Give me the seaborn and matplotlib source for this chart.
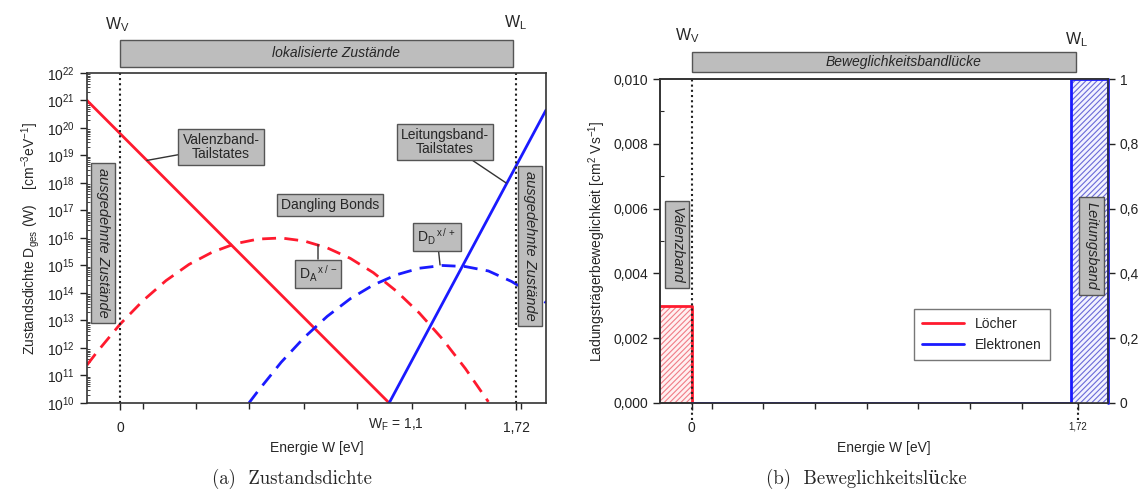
import numpy as np
import pandas as pd
import matplotlib
matplotlib.use("Agg")
import matplotlib.pyplot as plt
import matplotlib.transforms as mtransforms
from matplotlib.patches import Rectangle
from matplotlib.lines import Line2D
from matplotlib.ticker import FixedLocator, LogLocator, NullFormatter
import seaborn as sns

# ---------------- data: panel (a) Zustandsdichte (log10 of D) ----------------
w_vb_tail = [-0.143, 1.169]
log_d_vb_tail = [21.0, 10.0]
w_lb_tail = [1.169, 1.85]
log_d_lb_tail = [10.0, 20.65]
w_da = [-0.143, -0.1, 0.0, 0.1, 0.2, 0.3, 0.4, 0.5, 0.6, 0.7, 0.8, 0.9, 1.0,
        1.1, 1.2, 1.3, 1.4, 1.5, 1.6]
log_d_da = [11.38, 11.85, 12.86, 13.72, 14.45, 15.04, 15.48, 15.79, 15.96, 16.0,
            15.89, 15.64, 15.26, 14.74, 14.07, 13.27, 12.33, 11.25, 10.04]
w_dd = [0.56, 0.6, 0.7, 0.8, 0.9, 1.0, 1.1, 1.2, 1.3, 1.4, 1.5, 1.6, 1.7, 1.8, 1.85]
log_d_dd = [10.0, 10.44, 11.48, 12.38, 13.15, 13.79, 14.29, 14.66, 14.90, 15.0,
            14.96, 14.80, 14.42, 13.92, 13.65]
x_ticks_a = [0.0, 1.72]
x_ticklabels_a = ["0", "1,72"]
w_fermi = 1.2
w_fermi_label = "W$_F$ = 1,1"

# ---------------- data: panel (b) Beweglichkeitslücke ----------------
w_loecher = [-0.141, 0.0, 0.0, 1.69]
mu_loecher = [0.003, 0.003, 0.0, 0.0]
w_elektronen = [0.0, 1.69, 1.69, 1.855]
mu_elektronen = [0.0, 0.0, 1.0, 1.0]
y_ticks_b = [0.0, 0.002, 0.004, 0.006, 0.008, 0.010]
y_ticklabels_b = ["0,000", "0,002", "0,004", "0,006", "0,008", "0,010"]
y2_ticks_b = [0.0, 0.2, 0.4, 0.6, 0.8, 1.0]
y2_ticklabels_b = ["0", "0,2", "0,4", "0,6", "0,8", "1"]

W_V, W_L = 0.0, 1.72

sns.set_theme(style="ticks")
plt.rcParams['font.family'] = ['Liberation Sans', 'DejaVu Sans']
plt.rcParams['mathtext.default'] = 'regular'
plt.rcParams['hatch.linewidth'] = 0.8
plt.rcParams['axes.edgecolor'] = '#333333'
plt.rcParams['axes.linewidth'] = 1.2

RED = '#ff1a2e'
BLUE = '#1a1aff'
BOXFC = '#bdbdbd'
BOXEC = '#555555'
box = dict(boxstyle='square,pad=0.3', fc=BOXFC, ec=BOXEC, lw=1.0)
vbox = dict(boxstyle='square,pad=0.35', fc=BOXFC, ec=BOXEC, lw=1.0)

fig = plt.figure(figsize=(11.42, 4.95), dpi=100)
axA = fig.add_axes([0.0762, 0.1859, 0.4019, 0.6667])
axB = fig.add_axes([0.5779, 0.1859, 0.3923, 0.6545])

# ================= panel (a) =================
ax = axA
dfa = pd.DataFrame({"W": w_vb_tail, "D": np.power(10.0, log_d_vb_tail)})
sns.lineplot(data=dfa, x="W", y="D", ax=ax, color=RED, lw=2, sort=False, estimator=None)
dfb = pd.DataFrame({"W": w_lb_tail, "D": np.power(10.0, log_d_lb_tail)})
sns.lineplot(data=dfb, x="W", y="D", ax=ax, color=BLUE, lw=2, sort=False, estimator=None)
dfc = pd.DataFrame({"W": w_da, "D": np.power(10.0, log_d_da)})
sns.lineplot(data=dfc, x="W", y="D", ax=ax, color=RED, lw=2, sort=False, estimator=None,
             linestyle=(0, (5, 3)))
dfd = pd.DataFrame({"W": w_dd, "D": np.power(10.0, log_d_dd)})
sns.lineplot(data=dfd, x="W", y="D", ax=ax, color=BLUE, lw=2, sort=False, estimator=None,
             linestyle=(0, (5, 3)))
ax.set_yscale('log')
ax.set_xlim(-0.143, 1.85)
ax.set_ylim(1e10, 1e22)
ax.yaxis.set_major_locator(LogLocator(base=10, numticks=20))
ax.yaxis.set_minor_locator(LogLocator(base=10, subs=np.arange(2, 10), numticks=200))
ax.yaxis.set_minor_formatter(NullFormatter())
ax.set_xticks(x_ticks_a)
ax.set_xticklabels(x_ticklabels_a)
ax.xaxis.set_minor_locator(FixedLocator([0.1, 0.33, 0.56, 0.80, 1.03, 1.27, 1.50, 1.74]))
ax.tick_params(axis='both', which='major', direction='out', length=5, width=1,
               labelsize=10, colors='#222222')
ax.tick_params(axis='x', which='major', pad=8)
ax.tick_params(axis='x', which='minor', direction='out', length=4, width=1)
ax.tick_params(axis='y', which='minor', direction='in', length=2, width=0.6)
ax.set_xlabel("Energie W [eV]", fontsize=10, labelpad=4)
ax.set_ylabel("Zustandsdichte D$_{ges}$ (W)    [cm$^{-3}$eV$^{-1}$]", fontsize=10, labelpad=4)
ax.grid(False)
transA = mtransforms.blended_transform_factory(ax.transData, ax.transAxes)
ax.text(w_fermi, -0.065, w_fermi_label, transform=transA, ha='center', va='center', fontsize=10)
for xv in (W_V, W_L):
    ax.axvline(xv, color='#222222', ls=(0, (1, 1.5)), lw=1.5)
ax.add_patch(Rectangle((W_V, 1.018), 1.707, 0.082, transform=transA, fc=BOXFC, ec=BOXEC,
                       lw=1.0, clip_on=False))
ax.text(0.938, 1.059, "lokalisierte Zustände", transform=transA, ha='center', va='center',
        fontsize=10, style='italic')
ax.text(-0.013, 1.145, "W$_V$", transform=transA, ha='center', va='center', fontsize=11.5)
ax.text(1.716, 1.152, "W$_L$", transform=transA, ha='center', va='center', fontsize=11.5)
ax.text(-0.074, 0.485, "ausgedehnte Zustände", transform=transA, ha='center', va='center',
        fontsize=10.5, style='italic', rotation=-90, bbox=vbox)
ax.text(1.781, 0.476, "ausgedehnte Zustände", transform=transA, ha='center', va='center',
        fontsize=10.5, style='italic', rotation=-90, bbox=vbox)
ax.annotate("Valenzband-\nTailstates", xy=(0.117, 10**18.82), xytext=(0.439, 10**19.31),
            ha='center', va='center', fontsize=10, bbox=box, linespacing=1.0,
            arrowprops=dict(arrowstyle='-', color='#333333', lw=1.0, shrinkA=0, shrinkB=0))
ax.annotate("Leitungsband-\nTailstates", xy=(1.677, 10**18.0), xytext=(1.412, 10**19.49),
            ha='center', va='center', fontsize=10, bbox=box, linespacing=1.0,
            arrowprops=dict(arrowstyle='-', color='#333333', lw=1.0, shrinkA=0, shrinkB=0))
ax.text(0.912, 10**17.2, "Dangling Bonds", ha='center', va='center', fontsize=10, bbox=box)
ax.annotate("D$_D$$^{\\,x\\,/\\,+}$", xy=(1.39, 10**15.02), xytext=(1.377, 10**16.04),
            ha='center', va='center', fontsize=10, bbox=box,
            arrowprops=dict(arrowstyle='-', color='#333333', lw=1.0, shrinkA=0, shrinkB=0))
ax.annotate("D$_A$$^{\\,x\\,/\\,-}$", xy=(0.86, 10**15.76), xytext=(0.86, 10**14.69),
            ha='center', va='center', fontsize=10, bbox=box,
            arrowprops=dict(arrowstyle='-', color='#333333', lw=1.0, shrinkA=0, shrinkB=0))

# ================= panel (b) =================
ax = axB
ax2 = ax.twinx()
ax.fill_between([w_loecher[0], w_loecher[1]], 0, [mu_loecher[0], mu_loecher[1]],
                facecolor='#fff0f0', edgecolor='#f07c86', hatch='//////', lw=0)
ax2.fill_between([w_elektronen[2], w_elektronen[3]], 0, [mu_elektronen[2], mu_elektronen[3]],
                 facecolor='#f2f2ff', edgecolor='#6a6ad8', hatch='//////', lw=0)
sns.lineplot(x=w_loecher, y=mu_loecher, ax=ax, color=RED, lw=2, sort=False, estimator=None)
sns.lineplot(x=w_elektronen, y=mu_elektronen, ax=ax2, color=BLUE, lw=2, sort=False,
             estimator=None)
ax2.plot([w_elektronen[3], w_elektronen[3]], [0, 1], color=BLUE, lw=2, clip_on=False)
ax.set_xlim(-0.141, 1.855)
ax.set_ylim(0, 0.010)
ax2.set_ylim(0, 1)
ax.set_yticks(y_ticks_b)
ax.set_yticklabels(y_ticklabels_b)
ax.yaxis.set_minor_locator(FixedLocator(np.arange(0.001, 0.010, 0.002)))
ax2.set_yticks(y2_ticks_b)
ax2.set_yticklabels(y2_ticklabels_b)
ax.set_xticks([0.0, 1.72])
ax.set_xticklabels(["0", "1,72"])
ax.xaxis.set_minor_locator(FixedLocator([0.093, 0.32, 0.55, 0.78, 1.01, 1.24, 1.47]))
ax.tick_params(axis='both', which='major', direction='out', length=5, width=1,
               labelsize=10, colors='#222222')
ax.get_xticklabels()[1].set_fontsize(7)
ax.tick_params(axis='x', which='major', pad=8)
ax.tick_params(axis='x', which='minor', direction='out', length=4, width=1)
ax.tick_params(axis='y', which='minor', direction='in', length=3, width=0.8)
ax2.tick_params(axis='y', which='major', direction='out', length=5, width=1,
                labelsize=10, colors='#222222')
ax.set_xlabel("Energie W [eV]", fontsize=10, labelpad=4)
ax.set_ylabel("Ladungsträgerbeweglichkeit [cm$^2$ Vs$^{-1}$]", fontsize=10, labelpad=4)
ax2.set_ylabel("")
ax.grid(False)
ax2.grid(False)
transB = mtransforms.blended_transform_factory(ax.transData, ax.transAxes)
for xv in (W_V, W_L):
    ax.plot([xv, xv], [-0.052, 1.0], transform=transB, color='#222222', ls=(0, (1, 1.5)),
            lw=1.5, clip_on=False, zorder=5)
ax.add_patch(Rectangle((W_V, 1.022), 1.711, 0.061, transform=transB, fc=BOXFC, ec=BOXEC,
                       lw=1.0, clip_on=False))
ax.text(0.944, 1.053, "Beweglichkeitsbandlücke", transform=transB, ha='center', va='center',
        fontsize=10, style='italic')
ax.text(-0.018, 1.133, "W$_V$", transform=transB, ha='center', va='center', fontsize=11.5)
ax.text(1.716, 1.12, "W$_L$", transform=transB, ha='center', va='center', fontsize=11.5)
ax.text(-0.066, 0.488, "Valenzband", transform=transB, ha='center', va='center',
        fontsize=10.5, style='italic', rotation=-90, bbox=vbox, zorder=6)
ax2.text(1.782, 0.485, "Leitungsband", transform=mtransforms.blended_transform_factory(
         ax2.transData, ax2.transAxes), ha='center', va='center',
         fontsize=10.5, style='italic', rotation=-90, bbox=vbox, zorder=6)
handles = [Line2D([], [], color=RED, lw=2), Line2D([], [], color=BLUE, lw=2)]
leg = ax2.legend(handles, ["Löcher", "Elektronen"], loc='upper left',
                 bbox_to_anchor=(0.551, 0.312), frameon=True, fancybox=False,
                 edgecolor='#555555', fontsize=10, handlelength=3.0, borderpad=0.6)
leg.get_frame().set_linewidth(1.0)

# ---------------- captions ----------------
fig.text(292 / 1142, 1 - 479 / 495, "(a)  Zustandsdichte", ha='center', va='center',
         fontsize=13.5, family=['cmr10', 'DejaVu Serif'])
fig.text(866 / 1142, 1 - 479 / 495, "(b)  Beweglichkeitslücke", ha='center', va='center',
         fontsize=13.5, family=['cmr10', 'DejaVu Serif'])

fig.savefig("out.png", dpi=100)
